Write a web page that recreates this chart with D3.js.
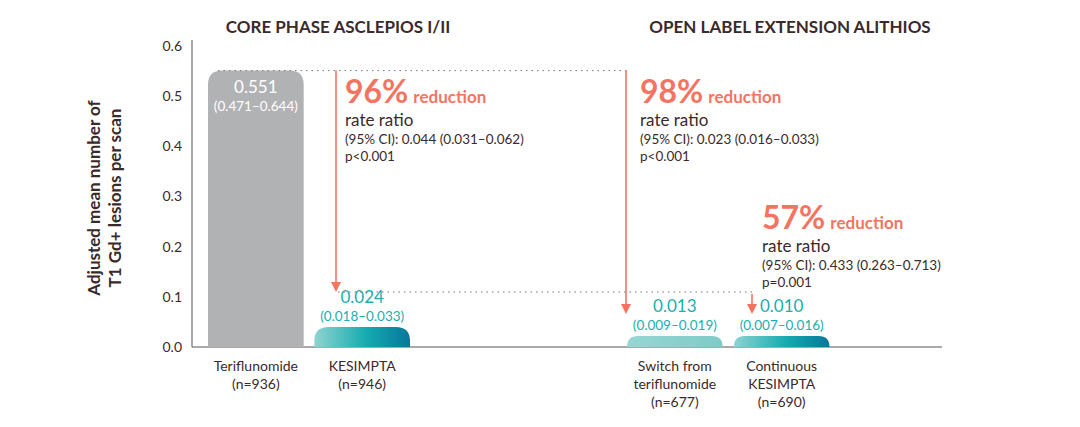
<!DOCTYPE html>
<html><head><meta charset="utf-8">
<script src="https://cdn.jsdelivr.net/npm/d3@7"></script>
<style>body{margin:0;background:#fff}text{font-family:Lato,"Open Sans",sans-serif}</style>
</head><body><svg width="1080" height="427"></svg>
<script>
var categories = ['Teriflunomide', 'KESIMPTA', 'Switch from teriflunomide', 'Continuous KESIMPTA']
var groups = ['core', 'core', 'ole', 'ole']
var labelLines = [['Teriflunomide', '(n=936)'], ['KESIMPTA', '(n=946)'], ['Switch from', 'teriflunomide', '(n=677)'], ['Continuous', 'KESIMPTA', '(n=690)']]
var values = [0.551, 0.024, 0.013, 0.010]
var ciLabels = ['(0.471\u20130.644)', '(0.018\u20130.033)', '(0.009\u20130.019)', '(0.007\u20130.016)']
var yTicks = [0, 0.1, 0.2, 0.3, 0.4, 0.5, 0.6]
var reductions = ['96%', '98%', '57%']
var ratioTexts = ['(95% CI): 0.044 (0.031\u20130.062)', '(95% CI): 0.023 (0.016\u20130.033)', '(95% CI): 0.433 (0.263\u20130.713)']
var pTexts = ['p<0.001', 'p<0.001', 'p=0.001']

var svg = d3.select('svg')
var dark = '#3b2a2a', salmon = '#f47461', teal = '#1aaeb0'

var y = d3.scaleLinear().domain([0, 0.6]).range([347, 46])
var xCore = d3.scaleBand().domain(categories.slice(0, 2)).range([208, 410]).paddingInner(0.1)
var xOle = d3.scaleBand().domain(categories.slice(2)).range([627, 830]).paddingInner(0.1)
function bx (c, i) { return groups[i] === 'core' ? xCore(c) : xOle(c) }
var bw = xCore.bandwidth()

var defs = svg.append('defs')
var g1 = defs.append('linearGradient').attr('id', 'tg')
g1.append('stop').attr('offset', '0%').attr('stop-color', '#8fd4d1')
g1.append('stop').attr('offset', '55%').attr('stop-color', '#14aab0')
g1.append('stop').attr('offset', '100%').attr('stop-color', '#08779a')
var g2 = defs.append('linearGradient').attr('id', 'lg')
g2.append('stop').attr('offset', '0%').attr('stop-color', '#96d6d3')
g2.append('stop').attr('offset', '100%').attr('stop-color', '#7fcbc7')

// axes
var yAxis = svg.append('g').attr('transform', 'translate(192,0)')
  .call(d3.axisLeft(y).tickValues(yTicks).tickFormat(d3.format('.1f')).tickSize(0).tickPadding(10))
yAxis.select('.domain').attr('stroke', '#555').attr('d', 'M0,40V347')
yAxis.selectAll('text').attr('font-size', 14).attr('fill', dark)
svg.append('line').attr('x1', 192).attr('x2', 942).attr('y1', 347).attr('y2', 347).attr('stroke', '#555')

svg.append('text').attr('transform', 'translate(100,198) rotate(-90)').attr('text-anchor', 'middle')
  .attr('font-size', 17).attr('font-weight', 700).attr('fill', dark)
  .selectAll('tspan').data(['Adjusted mean number of', 'T1 Gd+ lesions per scan']).enter().append('tspan')
  .attr('x', 0).attr('dy', function (d, i) { return i ? 21 : 0 }).text(function (d) { return d })

svg.append('text').attr('x', 338).attr('y', 33).attr('text-anchor', 'middle').attr('font-size', 17).attr('font-weight', 700).attr('fill', dark).text('CORE PHASE ASCLEPIOS I/II')
svg.append('text').attr('x', 790).attr('y', 33).attr('text-anchor', 'middle').attr('font-size', 17).attr('font-weight', 700).attr('fill', dark).text('OPEN LABEL EXTENSION ALITHIOS')

// bars: rounded tops, minimum visible height
var fills = ['#b1b2b4', 'url(#tg)', 'url(#lg)', 'url(#tg)']
categories.forEach(function (c, i) {
  var x0 = bx(c, i), top = Math.min(y(values[i]), 347 - (i === 0 ? 0 : (i === 1 ? 20 : 11)))
  var r = Math.min(14, (347 - top))
  svg.append('path').attr('fill', fills[i])
    .attr('d', 'M' + x0 + ',347V' + (top + r) + 'Q' + x0 + ',' + top + ' ' + (x0 + r) + ',' + top +
      'H' + (x0 + bw - r) + 'Q' + (x0 + bw) + ',' + top + ' ' + (x0 + bw) + ',' + (top + r) + 'V347Z')
  var cx = x0 + bw / 2
  var inside = i === 0
  var vy = inside ? y(values[i]) + 22 : top - 24
  svg.append('text').attr('x', cx).attr('y', vy).attr('text-anchor', 'middle').attr('font-size', 17)
    .attr('fill', inside ? '#fff' : teal).text(d3.format('.3f')(values[i]))
  svg.append('text').attr('x', cx).attr('y', vy + 18).attr('text-anchor', 'middle').attr('font-size', 13.5)
    .attr('fill', inside ? '#fff' : teal).text(ciLabels[i])
  svg.append('text').attr('text-anchor', 'middle').attr('font-size', 14).attr('fill', dark)
    .selectAll('tspan').data(labelLines[i]).enter().append('tspan')
    .attr('x', cx).attr('y', function (d, k) { return 371 + k * 18 }).text(function (d) { return d })
})

// reference dotted lines and arrows
function dots (x1, x2, yy) {
  svg.append('line').attr('x1', x1).attr('x2', x2).attr('y1', yy).attr('y2', yy)
    .attr('stroke', '#777').attr('stroke-dasharray', '1.5,4')
}
dots(218, 628, y(values[0]))
dots(338, 755, 292)
function arrow (x, y1, y2) {
  svg.append('line').attr('x1', x).attr('x2', x).attr('y1', y1).attr('y2', y2 - 9)
    .attr('stroke', salmon).attr('stroke-width', 1.6)
  svg.append('path').attr('fill', salmon)
    .attr('d', 'M' + (x - 5) + ',' + (y2 - 10) + 'L' + (x + 5) + ',' + (y2 - 10) + 'L' + x + ',' + y2 + 'Z')
}
arrow(336, y(values[0]), 292)
arrow(626, y(values[0]), 314)
arrow(752, 294, 314)

// annotations
var ann = [[345, 103], [640, 103], [762, 229]]
ann.forEach(function (p, i) {
  var t = svg.append('text').attr('x', p[0]).attr('y', p[1]).attr('fill', salmon).attr('font-weight', 700)
  t.append('tspan').attr('font-size', 32).text(reductions[i])
  t.append('tspan').attr('font-size', 17).attr('dx', 5).text('reduction')
  svg.append('text').attr('x', p[0]).attr('y', p[1] + 23).attr('font-size', 17).attr('fill', dark).text('rate ratio')
  svg.append('text').attr('x', p[0]).attr('y', p[1] + 41).attr('font-size', 13.5).attr('fill', dark).text(ratioTexts[i])
  svg.append('text').attr('x', p[0]).attr('y', p[1] + 58).attr('font-size', 13.5).attr('fill', dark).text(pTexts[i])
})
</script></body></html>
